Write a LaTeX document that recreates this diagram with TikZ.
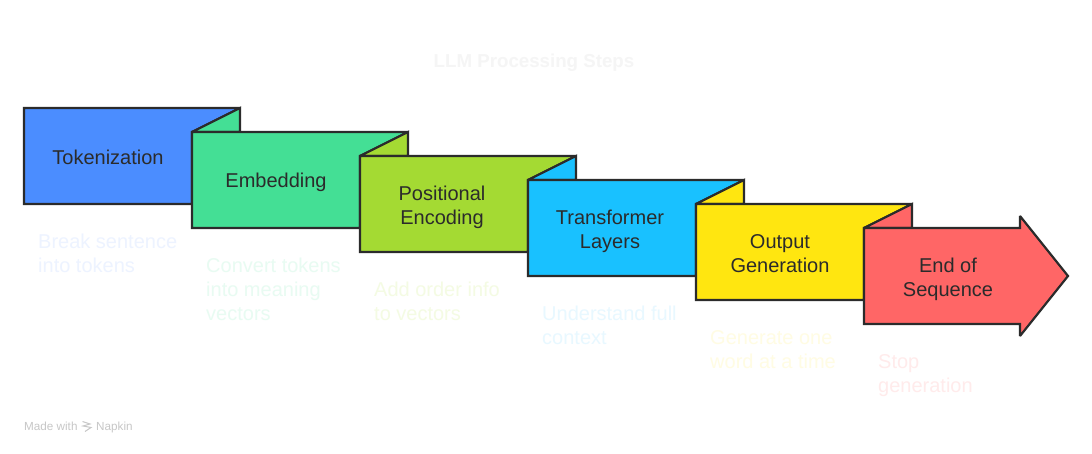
\documentclass[tikz,border=0pt]{standalone}
\usepackage{fontspec}
\setmainfont{Liberation Sans}
\definecolor{ink}{HTML}{2B2B2B}
\definecolor{cblue}{HTML}{4B8DFF}
\definecolor{cgreen}{HTML}{44DF95}
\definecolor{clime}{HTML}{A4DA33}
\definecolor{ccyan}{HTML}{19C1FF}
\definecolor{cyellow}{HTML}{FFE610}
\definecolor{cred}{HTML}{FF6666}
\definecolor{tblue}{HTML}{EDF3FF}
\definecolor{tgreen}{HTML}{E8FBF2}
\definecolor{tlime}{HTML}{F4FBE3}
\definecolor{tcyan}{HTML}{E8F8FF}
\definecolor{tyellow}{HTML}{FFFCE3}
\definecolor{tred}{HTML}{FFEBEB}
\tikzset{
  panel/.style={draw=ink,line width=2.2pt,line join=miter,miter limit=2,fill=#1},
  steplabel/.style={text=ink,align=center,inner sep=0pt,font=\fontsize{20}{24}\selectfont},
  caption/.style={text=#1,align=left,anchor=north west,inner sep=0pt,font=\fontsize{20}{24}\selectfont},
  titletext/.style={text=black!4,inner sep=0pt,font=\fontsize{18.7}{24}\selectfont\bfseries},
  credit/.style={text=black!22,inner sep=0pt,anchor=base west,font=\fontsize{11.7}{13}\selectfont}
}
\begin{document}
\begin{tikzpicture}[x=1pt,y=-1pt]
\useasboundingbox (0,0) rectangle (1092,454);
\fill[white] (0,0) rectangle (1092,454);

\node[titletext] (title) at (534,63) {LLM Processing Steps};

% folds and panels, back to front
\path[panel=cblue] (24,108) -- (240,108) -- (192,132) -- (192,204) -- (24,204) -- cycle;
\path[panel=cgreen] (192,132) -- (240,108) -- (240,132) -- cycle;
\path[panel=cgreen] (192,132) -- (408,132) -- (360,156) -- (360,228) -- (192,228) -- cycle;
\path[panel=clime] (360,156) -- (408,132) -- (408,156) -- cycle;
\path[panel=clime] (360,156) -- (576,156) -- (528,180) -- (528,252) -- (360,252) -- cycle;
\path[panel=ccyan] (528,180) -- (576,156) -- (576,180) -- cycle;
\path[panel=ccyan] (528,180) -- (744,180) -- (696,204) -- (696,276) -- (528,276) -- cycle;
\path[panel=cyellow] (696,204) -- (744,180) -- (744,204) -- cycle;
\path[panel=cyellow] (696,204) -- (912,204) -- (864,228) -- (864,300) -- (696,300) -- cycle;
\path[panel=cred] (864,228) -- (912,204) -- (912,228) -- cycle;
\path[panel=cred] (864,228) -- (1020,228) -- (1020,216) -- (1068,276) -- (1020,336) -- (1020,324) -- (864,324) -- cycle;

\node[steplabel] (s1) at (108,157) {Tokenization};
\node[steplabel] (s2) at (276,182.5) {Embedding};
\node[steplabel] (s3) at (442,207) {Positional\\Encoding};
\node[steplabel] (s4) at (610,231) {Transformer\\Layers};
\node[steplabel] (s5) at (780,254) {Output\\Generation};
\node[steplabel] (s6) at (948,279) {End of\\Sequence};

\node[caption=tblue] (c1) at (38,233.5) {Break sentence\\into tokens};
\node[caption=tgreen] (c2) at (206,257.5) {Convert tokens\\into meaning\\vectors};
\node[caption=tlime] (c3) at (374,281.5) {Add order info\\to vectors};
\node[caption=tcyan] (c4) at (542,305.5) {Understand full\\context};
\node[caption=tyellow] (c5) at (710,330) {Generate one\\word at a time};
\node[caption=tred] (c6) at (878,354) {Stop\\generation};

\node[credit] (made) at (24,430) {Made with};
\node[credit] (napkin) at (96,430) {Napkin};
\draw[black!22,line width=1pt] (82.5,421.5) -- (90,424) -- (83,426) -- (91,427.5) -- (85,431.5);
\end{tikzpicture}
\end{document}
